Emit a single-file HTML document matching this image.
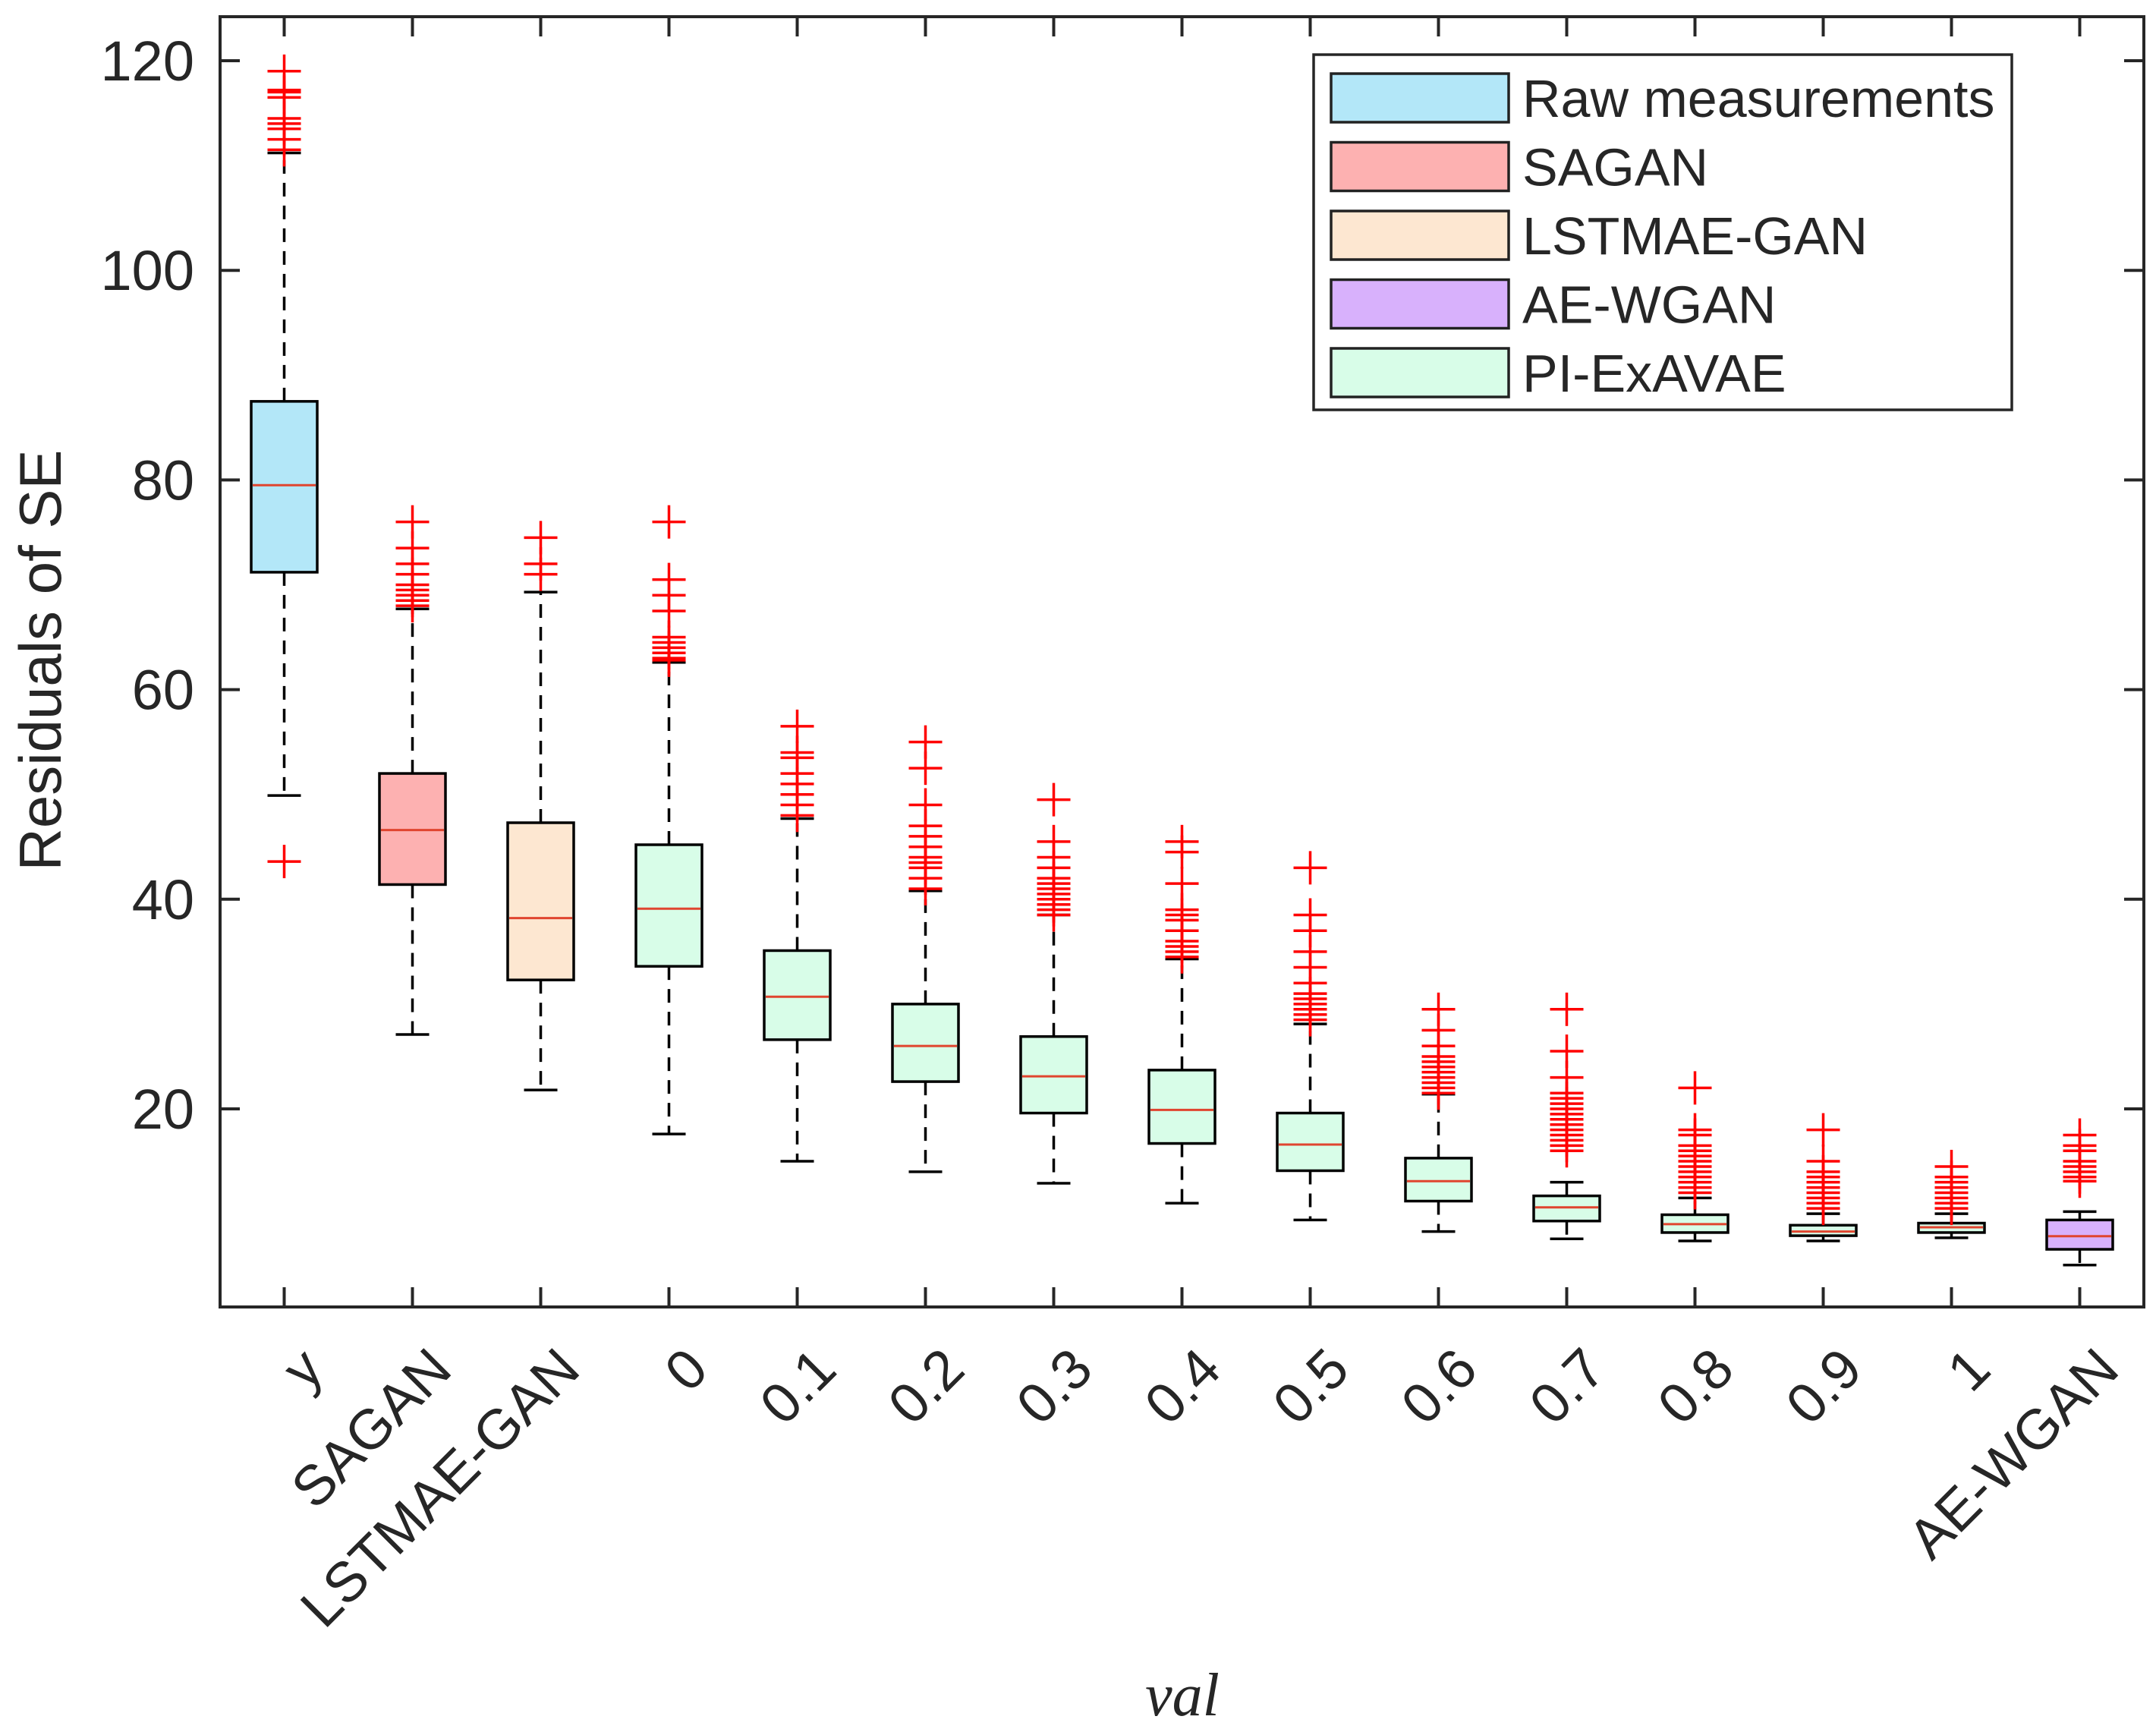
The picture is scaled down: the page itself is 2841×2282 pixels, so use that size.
<!DOCTYPE html>
<html><head><meta charset="utf-8"><style>
html,body{margin:0;padding:0;background:#fff}
svg{display:block}
text{font-family:"Liberation Sans",Arial,sans-serif;fill:#262626}
text.serif{font-family:"Liberation Serif","DejaVu Serif",serif}
</style></head><body>
<svg id="chart" width="2841" height="2282" viewBox="0 0 2841 2282" xmlns="http://www.w3.org/2000/svg">
<rect width="2841" height="2282" fill="#fff"/>
<g id="plot"></g>
<g id="axes"></g>
<g id="legend"></g>
</svg>
<script>
const categories = ["y","SAGAN","LSTMAE-GAN","0","0.1","0.2","0.3","0.4","0.5","0.6","0.7","0.8","0.9","1","AE-WGAN"];
const q1Values     = [71.2,41.4,32.3,33.6,26.6,22.6,19.6,16.7,14.1,11.2,9.3,8.2,7.9,8.2,6.6];
const medianValues = [79.5,46.6,38.2,39.1,30.7,26.0,23.1,19.9,16.6,13.1,10.6,9.0,8.3,8.7,7.85];
const q3Values     = [87.5,52.0,47.3,45.2,35.1,30.0,26.9,23.7,19.6,15.3,11.7,9.9,8.9,9.1,9.4];
const upperWhisker = [111.2,67.7,69.3,62.6,47.7,40.8,38.5,34.3,28.1,21.4,13.0,11.5,10.0,10.0,10.2];
const lowerWhisker = [49.9,27.1,21.8,17.6,15.0,14.0,12.9,11.0,9.4,8.3,7.6,7.4,7.4,7.7,5.1];
const outlierValues = [
  [111.5,112.5,113.5,114,114.5,116.5,117,117.2,119,43.6],
  [68,68.5,69,69.5,70,71,72,73.5,76],
  [71,72,74.5],
  [62.8,63,63.5,64,64.5,65,67.5,69,70.5,76],
  [48,49,50,51,52,53.5,54,56.5],
  [41,42,43,43.5,44,45,46,47,49,52.5,55],
  [38.5,39,39.5,40,40.5,41,41.5,42,43,44,45.5,49.5],
  [34.5,35,35.5,36,37,38,38.5,39,41.5,44.5,45.5],
  [28.5,29,29.5,30,30.5,31,32,33.5,35,37,38.5,43],
  [21.5,22,22.5,23,23.5,24,24.5,25,26,27.5,29.5],
  [16,16.5,17,17.5,18,18.5,19,19.5,20,20.5,21,21.5,23,25.5,29.5],
  [12,12.5,13,13.5,14,14.5,15,15.5,16,16.5,17.5,18,22],
  [10.5,11,11.5,12,12.5,13,13.5,14,15,18],
  [10.5,11,11.5,12,12.5,13,13.5,14.5],
  [13.1,13.5,14,14.5,15,16,16.5,17.5]
];
const groupOf = [0,1,2,4,4,4,4,4,4,4,4,4,4,4,3];
const yTicks = [20,40,60,80,100,120];
const legendLabels = ["Raw measurements","SAGAN","LSTMAE-GAN","AE-WGAN","PI-ExAVAE"];
const legendColors = ["#b3e7f8","#fdb1b1","#fde7d1","#d8b1fc","#d8fde8"];

const L=290,R=2825,T=22,B=1722, yMin=1.1, yMax=124.2;
const xs = i => L + (i+0.5)*(R-L)/categories.length;
const ys = v => B - (v-yMin)/(yMax-yMin)*(B-T);
const NS="http://www.w3.org/2000/svg";
function mk(tag, attrs, parent){const e=document.createElementNS(NS,tag);for(const k in attrs)e.setAttribute(k,attrs[k]);parent.appendChild(e);return e;}
const plot=document.getElementById('plot'), axes=document.getElementById('axes'), leg=document.getElementById('legend');
const bw=87, cap=44;
categories.forEach((c,i)=>{
  const x=xs(i);
  const g=mk('g',{},plot);
  
  
  const dash={stroke:'#000','stroke-width':3.5,'stroke-dasharray':'18,12'};
  mk('line',Object.assign({x1:x,x2:x,y1:ys(q3Values[i]),y2:ys(upperWhisker[i])},dash),g);
  mk('line',Object.assign({x1:x,x2:x,y1:ys(q1Values[i]),y2:ys(lowerWhisker[i])},dash),g);
  mk('line',{x1:x-cap/2,x2:x+cap/2,y1:ys(upperWhisker[i]),y2:ys(upperWhisker[i]),stroke:'#000','stroke-width':3.5},g);
  mk('line',{x1:x-cap/2,x2:x+cap/2,y1:ys(lowerWhisker[i]),y2:ys(lowerWhisker[i]),stroke:'#000','stroke-width':3.5},g);
  mk('rect',{x:x-bw/2,y:ys(q3Values[i]),width:bw,height:ys(q1Values[i])-ys(q3Values[i]),fill:legendColors[groupOf[i]],stroke:'#000','stroke-width':3.5},g);
  mk('line',{x1:x-bw/2+2,x2:x+bw/2-2,y1:ys(medianValues[i]),y2:ys(medianValues[i]),stroke:'#e0452f','stroke-width':3},g);
  outlierValues[i].forEach(v=>{
    const y=ys(v);
    mk('line',{x1:x-22,x2:x+22,y1:y,y2:y,stroke:'#f00','stroke-width':3.5},g);
    mk('line',{x1:x,x2:x,y1:y-22,y2:y+22,stroke:'#f00','stroke-width':3.5},g);
  });
});
const frame=mk('rect',{x:L,y:T,width:R-L,height:B-T,fill:'none',stroke:'#262626','stroke-width':4},axes);


yTicks.forEach(v=>{
  const y=ys(v);
  mk('line',{x1:L,x2:L+26,y1:y,y2:y,stroke:'#262626','stroke-width':4},axes);
  mk('line',{x1:R,x2:R-26,y1:y,y2:y,stroke:'#262626','stroke-width':4},axes);
  const t=mk('text',{x:L-34,y:y+26,'text-anchor':'end','font-size':74},axes);
  t.textContent=v;
  
  
});
categories.forEach((c,i)=>{
  const x=xs(i);
  mk('line',{x1:x,x2:x,y1:B,y2:B-26,stroke:'#262626','stroke-width':4},axes);
  mk('line',{x1:x,x2:x,y1:T,y2:T+26,stroke:'#262626','stroke-width':4},axes);
  const t=mk('text',{'text-anchor':'end','font-size':74,transform:`translate(${x+55},${1808}) rotate(-45)`},axes);
  t.textContent=c;
  
  
});
const yl=mk('text',{'text-anchor':'middle','font-size':78,transform:'translate(80,870) rotate(-90)'},axes);
yl.textContent='Residuals of SE';


const xl=mk('text',{x:1558,y:2260,'text-anchor':'middle','font-size':80,'font-style':'italic','class':'serif'},axes);
xl.textContent='val';


mk('rect',{x:1731,y:72,width:920,height:468,fill:'#fff',stroke:'#262626','stroke-width':3.5},leg);
legendLabels.forEach((lab,k)=>{
  const cy=129+k*90.5;
  const e=mk('g',{},leg);
  
  
  mk('rect',{x:1754,y:cy-32,width:234,height:64,fill:legendColors[k],stroke:'#222','stroke-width':3.5},e);
  const t=mk('text',{x:2006,y:cy+25,'font-size':70,fill:'#000'},e);
  t.textContent=lab;
});
</script>
</body></html>
